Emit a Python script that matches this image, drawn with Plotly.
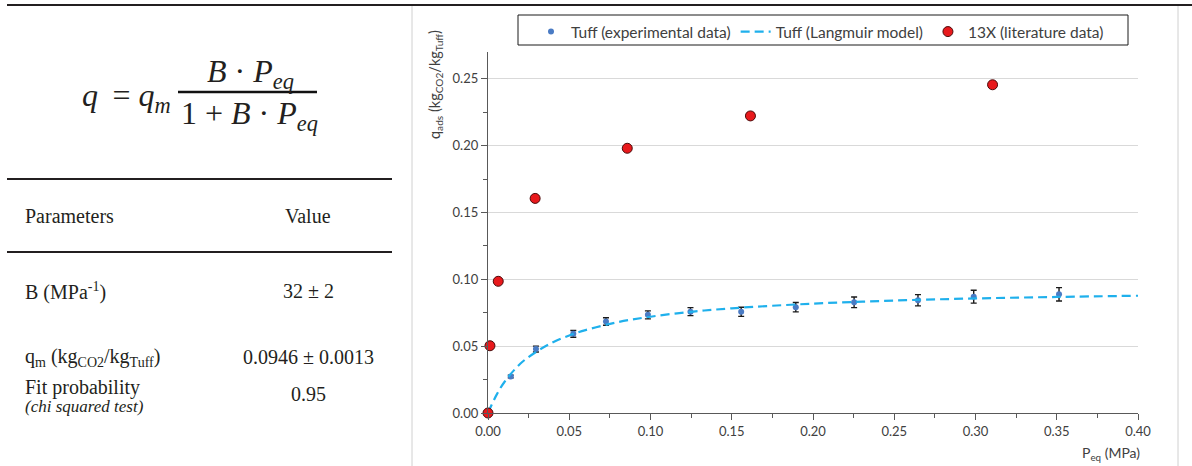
import plotly.graph_objects as go

# ---------------- data ----------------
tuff_p = [0.014, 0.0295, 0.0525, 0.0726, 0.0984, 0.1246, 0.1558, 0.1894, 0.2253, 0.2646, 0.2989, 0.3514]
tuff_q = [0.0273, 0.0478, 0.0592, 0.0684, 0.0734, 0.0758, 0.0757, 0.0791, 0.0828, 0.0843, 0.0870, 0.0888]
tuff_err = [0.0010, 0.0022, 0.0025, 0.0028, 0.0030, 0.0030, 0.0034, 0.0035, 0.0040, 0.0042, 0.0048, 0.0050]

model_p = [0.0, 0.005, 0.01, 0.02, 0.03, 0.04, 0.05, 0.06, 0.08, 0.10, 0.125, 0.15, 0.20, 0.25, 0.30, 0.35, 0.40]
model_q = [0.0, 0.013, 0.023, 0.037, 0.046, 0.053, 0.058, 0.062, 0.068, 0.072, 0.0757, 0.0783, 0.0818, 0.0841, 0.0857, 0.0868, 0.0877]

x13_p = [0.0, 0.0012, 0.0063, 0.029, 0.0857, 0.1615, 0.3105]
x13_q = [0.0, 0.0503, 0.0985, 0.1605, 0.198, 0.2222, 0.2455]

x_ticks = [0.0, 0.05, 0.10, 0.15, 0.20, 0.25, 0.30, 0.35, 0.40]
y_ticks = [0.0, 0.05, 0.10, 0.15, 0.20, 0.25]

series_names = ["Tuff (experimental data)", "Tuff (Langmuir model)", "13X (literature data)"]

table_rows = [
    ("B (MPa<sup>-1</sup>)", "32 ± 2"),
    ("q<sub>m</sub> (kg<sub>CO2</sub>/kg<sub>Tuff</sub>)", "0.0946 ± 0.0013"),
]

# ---------------- layout geometry (pixels) ----------------
W, H = 1192, 466
L, R, T, B = 488, 1138, 52, 413


def px(x):
    return (x - L) / (R - L)


def py(y):
    return (B - y) / (B - T)


CHART_FONT = "Lato"
SERIF = "Liberation Serif"
TXT = "#231f20"

fig = go.Figure()

fig.add_trace(go.Scatter(
    x=tuff_p, y=tuff_q, mode="markers", name=series_names[0],
    marker=dict(color="#4a7bc4", size=6),
    error_y=dict(type="data", array=tuff_err, visible=True, color="#1a1a1a", thickness=1.4, width=3),
    cliponaxis=False,
))
fig.add_trace(go.Scatter(
    x=model_p, y=model_q, mode="lines", name=series_names[1],
    line=dict(color="#1fb0ec", width=2.2, dash="9px,5px", shape="spline"),
))
fig.add_trace(go.Scatter(
    x=x13_p, y=x13_q, mode="markers", name=series_names[2],
    marker=dict(color="#e8191c", size=10, line=dict(color="#4a0a0a", width=1)),
    cliponaxis=False,
))

axis_common = dict(
    showline=True, linecolor="#595959", linewidth=1.3,
    ticks="outside", tickcolor="#595959", ticklen=6, tickwidth=1.2,
    tickfont=dict(family=CHART_FONT, size=13, color="#404040"),
    tickformat=".2f", zeroline=False,
    minor=dict(ticks="outside", ticklen=4, tickcolor="#595959", dtick=0.025, showgrid=False),
)

fig.update_xaxes(range=[0, 0.4], tickvals=x_ticks, showgrid=False, **axis_common)
fig.update_yaxes(range=[0, 0.27], tickvals=y_ticks, showgrid=True, gridcolor="#d9d9d9", gridwidth=1, **axis_common)

shapes = []
# top rule across the page
shapes.append(dict(type="line", xref="paper", yref="paper", x0=px(7), x1=px(1192), y0=py(5), y1=py(5),
                   line=dict(color="#231f20", width=2)))
# table rules
for yy in (179, 252):
    shapes.append(dict(type="line", xref="paper", yref="paper", x0=px(7), x1=px(392), y0=py(yy), y1=py(yy),
                       line=dict(color="#231f20", width=2)))
# chart frame borders
for xx in (412, 1178):
    shapes.append(dict(type="line", xref="paper", yref="paper", x0=px(xx), x1=px(xx), y0=py(6), y1=py(466),
                       line=dict(color="#d0d0d0", width=1)))
# fraction bar
shapes.append(dict(type="line", xref="paper", yref="paper", x0=px(178), x1=px(317), y0=py(92), y1=py(92),
                   line=dict(color="#111111", width=2.5)))
# legend frame
shapes.append(dict(type="rect", xref="paper", yref="paper", x0=px(518), x1=px(1128), y0=py(15), y1=py(45),
                   line=dict(color="#1a1a1a", width=1), fillcolor="white", layer="above"))

ann = []


def add_text(text, x, y, xanchor="left", size=20, family=SERIF, color=TXT, angle=0):
    ann.append(dict(text=text, xref="paper", yref="paper", x=px(x), y=py(y), xanchor=xanchor,
                    yanchor="middle", showarrow=False, textangle=angle,
                    font=dict(family=family, size=size, color=color)))


# equation
add_text("<i>q</i> \u2009= <i>q</i><sub><i>m</i></sub>", 173, 97, xanchor="right", size=32)
add_text("<i>B</i> · <i>P</i><sub><i>eq</i></sub>", 250, 73, xanchor="center", size=32)
add_text("1 + <i>B</i> · <i>P</i><sub><i>eq</i></sub>", 249, 115, xanchor="center", size=32)

# table
add_text("Parameters", 23, 216)
add_text("Value", 308, 216, xanchor="center")
row_y = [291, 357]
for (lab, val), yy in zip(table_rows, row_y):
    add_text(lab, 23, yy)
    add_text(val, 308, yy, xanchor="center")
add_text("Fit probability", 23, 387)
add_text("<i>(chi squared test)</i>", 23, 406, size=17)
add_text("0.95", 308, 394, xanchor="center")

# axis titles
add_text("P<sub>eq</sub> (MPa)", 1142, 453, xanchor="right", size=14, family=CHART_FONT, color="#404040")
add_text("q<sub>ads</sub> (kg<sub>CO2</sub>/kg<sub>Tuff</sub>)", 435, 85, xanchor="center", size=14.5,
         family=CHART_FONT, color="#404040", angle=-90)

fig.update_layout(
    width=W, height=H,
    margin=dict(l=L, r=W - R, t=T, b=H - B, pad=0),
    paper_bgcolor="white", plot_bgcolor="white",
    showlegend=True,
    legend=dict(orientation="h", x=px(531), y=py(15), xanchor="left", yanchor="top",
                borderwidth=0, bgcolor="rgba(0,0,0,0)",
                font=dict(family=CHART_FONT, size=15.5, color="#404040")),
    shapes=shapes, annotations=ann,
)

fig.write_html(
    "out.html",
    config={"displayModeBar": False},
    post_script="document.body.style.margin='0';document.body.style.padding='0';",
)
